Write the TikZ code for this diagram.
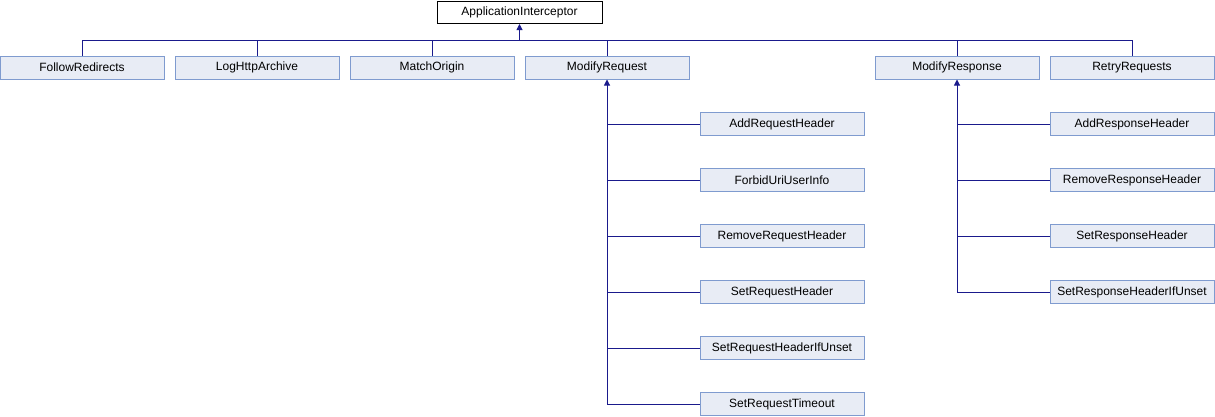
\documentclass[tikz,border=0pt]{standalone}
\usepackage{fontspec}
\setmainfont{Liberation Sans}
\usetikzlibrary{arrows.meta}
\definecolor{boxfill}{HTML}{E8ECF5}
\definecolor{boxdraw}{HTML}{7F9BCF}
\definecolor{linkcol}{HTML}{1A1A8C}
\begin{document}
\begin{tikzpicture}[x=1pt,y=-1pt,
  cls/.style={draw=boxdraw,fill=boxfill,line width=1pt,minimum width=164pt,minimum height=23pt,inner sep=0pt,font=\fontsize{12}{14}\selectfont},
  root/.style={draw=black,fill=white,line width=1pt,minimum width=165pt,minimum height=22pt,inner sep=0pt,font=\fontsize{12}{14}\selectfont},
  link/.style={draw=linkcol,line width=1pt},
  inh/.style={link,-{Triangle[length=6pt,width=6pt]}}]
\useasboundingbox (0,0) rectangle (1215,416);
\node[root] (ai) at (519.5,12.5) {ApplicationInterceptor};
\node[cls] (fr) at (82,67.5) {FollowRedirects};
\node[cls] (lh) at (257,67.5) {LogHttpArchive};
\node[cls] (mo) at (432,67.5) {MatchOrigin};
\node[cls] (mq) at (607,67.5) {ModifyRequest};
\node[cls] (mr) at (957,67.5) {ModifyResponse};
\node[cls] (rr) at (1132,67.5) {RetryRequests};
\coordinate (bus) at (519.5,40);
\foreach \n in {fr,lh,mo,mq,mr,rr} \draw[link] (\n.north) |- (bus);
\draw[inh] (bus) -- (ai.south);
% ModifyRequest children
\node[cls] (arh) at (782,124) {AddRequestHeader};
\node[cls] (fui) at (782,180) {ForbidUriUserInfo};
\node[cls] (rrh) at (782,236) {RemoveRequestHeader};
\node[cls] (srh) at (782,292) {SetRequestHeader};
\node[cls] (sru) at (782,348) {SetRequestHeaderIfUnset};
\node[cls] (srt) at (782,404) {SetRequestTimeout};
\draw[inh] (srt.west) -| (mq.south);
\foreach \n in {arh,fui,rrh,srh,sru} \draw[link] (\n.west) -- (\n.west -| mq.south);
% ModifyResponse children
\node[cls] (ash) at (1132,124) {AddResponseHeader};
\node[cls] (rsh) at (1132,180) {RemoveResponseHeader};
\node[cls] (ssh) at (1132,236) {SetResponseHeader};
\node[cls] (ssu) at (1132,292) {SetResponseHeaderIfUnset};
\draw[inh] (ssu.west) -| (mr.south);
\foreach \n in {ash,rsh,ssh} \draw[link] (\n.west) -- (\n.west -| mr.south);
\end{tikzpicture}
\end{document}
